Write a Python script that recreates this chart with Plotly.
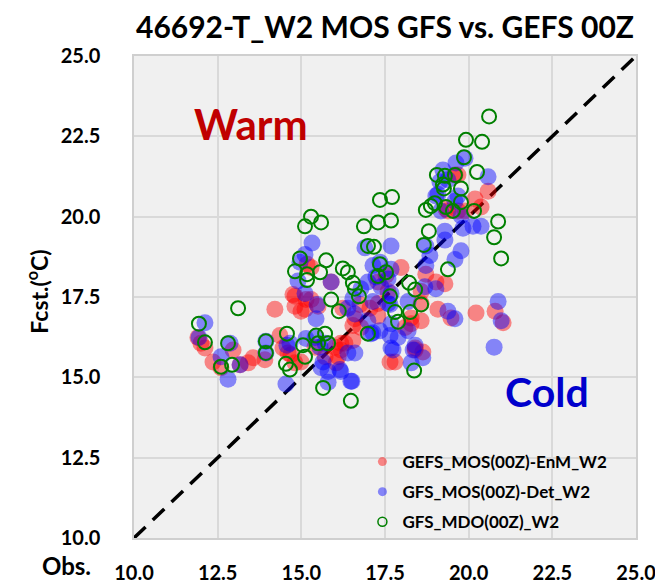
import plotly.graph_objects as go

# ---- data (Obs, Fcst) ----
enm_obs = [14.21, 14.81, 15.11, 15.29, 15.50, 15.89, 16.60, 16.78, 16.54, 16.18, 16.10, 16.01,
           12.00, 12.12, 12.96, 12.36, 12.60, 13.17, 13.56, 13.41, 13.91, 14.36, 14.45, 14.60,
           14.99, 15.41, 15.71, 11.91, 14.75, 15.14, 14.81, 14.99, 16.24, 16.75, 17.05, 17.29,
           16.54, 16.18, 16.04, 14.69, 14.81, 17.65, 17.59, 19.68, 20.58, 20.19, 20.37, 19.89,
           19.38, 19.68, 18.72, 19.02, 19.29, 17.98, 17.53, 17.29, 18.28, 18.58, 18.10, 19.47,
           20.22, 20.79, 21.03, 17.29, 18.58, 16.30, 17.80, 18.63, 18.40, 18.58, 19.08, 18.28,
           18.40, 15.17, 15.29, 19.59, 19.32]
enm_fcst = [17.12, 17.52, 17.12, 17.42, 17.21, 17.97, 16.82, 16.55, 16.15, 15.85, 15.64, 15.94,
            16.06, 15.91, 15.85, 15.48, 15.30, 15.39, 15.61, 15.45, 15.55, 16.30, 15.91, 15.76,
            15.48, 15.94, 15.64, 16.24, 17.58, 17.42, 17.21, 17.06, 17.15, 17.27, 17.15, 17.30,
            16.61, 16.06, 15.45, 15.70, 15.45, 15.48, 17.67, 21.30, 20.79, 20.55, 20.30, 20.18,
            20.18, 20.18, 18.21, 17.97, 17.91, 18.42, 18.18, 17.97, 16.85, 16.76, 16.55, 16.85,
            17.00, 17.06, 16.70, 16.91, 17.67, 16.06, 15.48, 15.79, 15.91, 17.30, 17.12, 16.67,
            15.85, 18.52, 18.42, 21.30, 20.24]

det_obs = [12.12, 11.94, 12.60, 12.87, 13.17, 12.81, 13.94, 13.94, 14.54, 14.57, 15.32, 15.11,
           14.96, 14.90, 15.11, 15.47, 15.44, 15.89, 16.39, 15.14, 15.41, 15.56, 15.65, 15.80,
           16.15, 15.80, 16.48, 16.60, 16.90, 15.71, 14.66, 15.59, 17.14, 17.23, 17.38, 16.99,
           17.59, 17.68, 17.65, 17.14, 17.68, 17.65, 19.89, 19.62, 19.23, 19.14, 19.38, 20.58,
           19.08, 19.59, 19.17, 19.77, 20.13, 20.37, 19.29, 19.29, 19.77, 19.59, 18.72, 18.84,
           18.72, 17.68, 17.35, 17.68, 18.69, 19.02, 16.78, 16.54, 17.14, 17.59, 18.19, 19.38,
           19.59, 16.60, 16.99, 17.35, 17.89, 17.68, 17.08, 20.88, 20.97, 20.76, 18.40, 18.19,
           17.74, 18.34, 18.63, 18.28, 16.39, 16.18, 16.51, 19.02, 19.68, 19.83]
det_fcst = [16.70, 16.24, 15.64, 16.06, 15.39, 14.94, 16.12, 15.76, 14.79, 16.00, 19.18, 18.82,
            18.58, 18.00, 17.61, 17.27, 16.82, 17.97, 17.15, 16.21, 16.24, 15.94, 15.48, 15.18,
            15.24, 14.85, 14.88, 15.76, 19.03, 16.06, 16.06, 15.30, 18.48, 18.12, 17.82, 17.97,
            18.06, 17.61, 17.27, 16.39, 15.91, 16.30, 21.82, 21.67, 21.45, 21.09, 21.15, 21.24,
            20.70, 20.48, 20.18, 20.03, 19.70, 19.70, 19.55, 19.27, 18.94, 18.67, 19.09, 18.79,
            18.48, 19.09, 18.58, 18.36, 17.82, 17.76, 17.76, 17.45, 17.36, 17.30, 17.36, 17.06,
            16.82, 16.97, 16.76, 16.45, 16.24, 16.67, 16.36, 17.36, 16.76, 15.94, 16.00, 16.45,
            15.85, 15.85, 15.61, 15.45, 15.76, 15.18, 14.88, 20.64, 20.64, 19.64]

mdo_obs = [11.94, 12.12, 13.11, 12.81, 12.60, 12.93, 13.94, 13.94, 14.57, 14.54, 14.66, 15.29,
           15.11, 15.59, 14.96, 14.81, 15.17, 15.17, 15.74, 15.56, 16.24, 16.39, 16.54, 16.60,
           16.72, 15.89, 16.12, 16.87, 16.99, 17.17, 15.05, 15.11, 15.44, 15.71, 15.50, 15.80,
           15.65, 16.48, 16.99, 20.61, 19.92, 20.40, 19.86, 20.25, 19.05, 19.29, 19.59, 19.77,
           19.23, 19.26, 18.72, 18.87, 18.99, 19.32, 19.53, 19.77, 20.16, 20.88, 20.76, 20.97,
           18.81, 18.66, 17.35, 17.71, 17.29, 17.68, 17.35, 17.53, 17.29, 19.38, 18.22, 18.40,
           17.65, 18.58, 17.80, 18.25, 17.89, 18.37]
mdo_fcst = [16.67, 16.09, 17.15, 16.06, 15.33, 15.39, 16.12, 15.76, 16.36, 15.42, 15.24, 20.00,
            19.70, 19.82, 18.70, 18.30, 18.21, 18.03, 18.64, 18.27, 18.39, 18.27, 17.94, 17.76,
            17.52, 17.42, 17.06, 19.70, 19.09, 19.06, 16.00, 15.64, 16.30, 16.36, 16.06, 16.06,
            14.67, 14.27, 16.36, 23.12, 22.39, 22.33, 21.85, 21.39, 21.30, 21.27, 21.30, 20.88,
            21.00, 20.88, 20.21, 20.33, 20.42, 20.30, 20.18, 20.45, 20.18, 19.85, 19.36, 18.70,
            19.55, 19.12, 20.52, 20.61, 19.82, 19.88, 18.52, 18.27, 18.15, 18.36, 17.94, 17.73,
            17.52, 17.27, 17.03, 17.03, 16.73, 15.21]

axis_min, axis_max = 10.0, 25.0
tick_vals = [10.0, 12.5, 15.0, 17.5, 20.0, 22.5, 25.0]
tick_text = ["10.0", "12.5", "15.0", "17.5", "20.0", "22.5", "25.0"]

names = ["GEFS_MOS(00Z)-EnM_W2", "GFS_MOS(00Z)-Det_W2", "GFS_MDO(00Z)_W2"]
title = "46692-T_W2 MOS GFS vs. GEFS 00Z"

FONT = "Lato"
RED = "rgba(255,0,0,0.45)"
BLUE = "rgba(0,0,255,0.45)"
GREEN = "#008000"

fig = go.Figure()

# 1:1 line
fig.add_trace(go.Scatter(x=[axis_min, axis_max], y=[axis_min, axis_max], mode="lines",
                         line=dict(color="black", width=3.5, dash="16px,10px"),
                         showlegend=False, hoverinfo="skip"))

fig.add_trace(go.Scatter(x=enm_obs, y=enm_fcst, mode="markers", showlegend=False,
                         marker=dict(size=17, color=RED, line=dict(width=0))))
fig.add_trace(go.Scatter(x=det_obs, y=det_fcst, mode="markers", showlegend=False,
                         marker=dict(size=17, color=BLUE, line=dict(width=0))))
fig.add_trace(go.Scatter(x=mdo_obs, y=mdo_fcst, mode="markers", showlegend=False,
                         marker=dict(size=14, color="rgba(0,0,0,0)", line=dict(width=2, color=GREEN))))

# legend entries (small symbols as in the reference)
leg_styles = [dict(size=9, color=RED, line=dict(width=0)),
              dict(size=9, color=BLUE, line=dict(width=0)),
              dict(size=9, color="rgba(0,0,0,0)", line=dict(width=1.5, color=GREEN))]
for i, (nm, mk) in enumerate(zip(names, leg_styles)):
    fig.add_trace(go.Scatter(x=[None], y=[None], mode="markers", name=nm, marker=mk,
                             legendgroup=f"g{i}"))

axis_common = dict(range=[axis_min, axis_max], tickmode="array", tickvals=tick_vals, ticktext=tick_text,
                   showgrid=True, gridcolor="#d9d9d9", gridwidth=2, zeroline=False,
                   showline=True, linecolor="#cfcfcf", linewidth=1.5, mirror=True,
                   tickfont=dict(family=FONT, size=20, color="black", weight="bold"),
                   ticks="", fixedrange=True)

fig.update_xaxes(**axis_common, ticklabelstandoff=16)
fig.update_yaxes(**axis_common, ticklabelstandoff=28)

fig.update_layout(
    width=663, height=588,
    margin=dict(l=126, r=35, t=48, b=45),
    paper_bgcolor="white", plot_bgcolor="#f0f0f0",
    title=dict(text=title, x=0.5, xref="paper", xanchor="center", y=1 - 19 / 588, yanchor="middle",
               font=dict(family=FONT, size=30, color="black", weight="bold")),
    legend=dict(x=0.455, y=0.195, xanchor="left", yanchor="top", bgcolor="rgba(0,0,0,0)",
                font=dict(family=FONT, size=17, color="black", weight="bold"),
                traceorder="grouped", tracegroupgap=5, itemwidth=30),
    showlegend=True,
    annotations=[
        dict(text="Warm", xref="paper", yref="paper", x=0.233, y=0.859, showarrow=False,
             xanchor="center", yanchor="middle",
             font=dict(family=FONT, size=42, color="#c00000", weight="bold")),
        dict(text="Cold", xref="paper", yref="paper", x=0.823, y=0.303, showarrow=False,
             xanchor="center", yanchor="middle",
             font=dict(family=FONT, size=41, color="#0000cc", weight="bold")),
        dict(text="Obs.", xref="paper", yref="paper", x=(58 - 126) / 502, y=-(571 - 543) / 495,
             showarrow=False, xanchor="center", yanchor="middle",
             font=dict(family=FONT, size=24, color="black", weight="bold")),
        dict(text="Fcst.(<sup>o</sup>C)", xref="paper", yref="paper", x=(30 - 126) / 502,
             y=(543 - 290) / 495, showarrow=False, textangle=-90, xanchor="center", yanchor="middle",
             font=dict(family=FONT, size=23, color="black", weight="bold")),
    ],
)

fig.write_html("out.html")
